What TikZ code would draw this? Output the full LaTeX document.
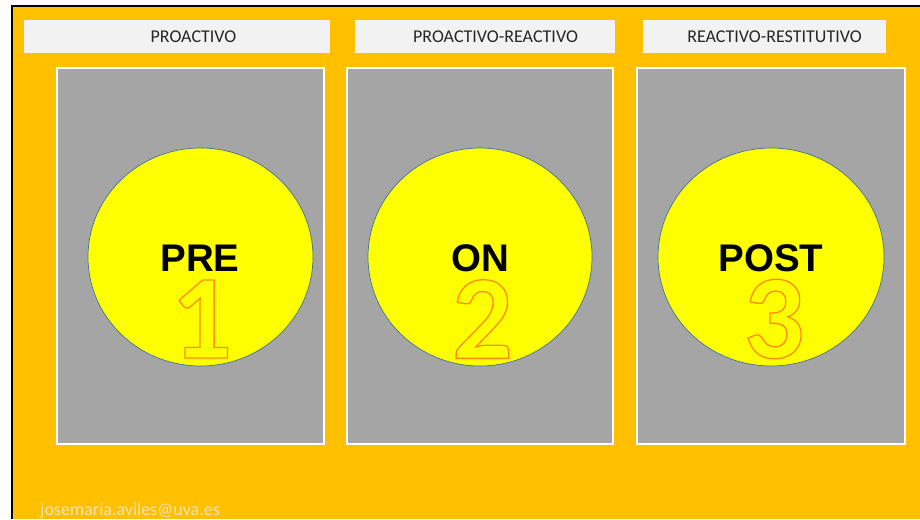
\documentclass[tikz,border=0pt]{standalone}
\usepackage{fontspec}
\setmainfont{Carlito}
\newfontfamily\arialb{Liberation Sans}[BoldFont=* Bold]
\newfontfamily\numfont{Carlito}[UprightFont=* Bold]
\definecolor{orangebg}{HTML}{FFC000}
\definecolor{labelbg}{HTML}{F2F2F2}
\definecolor{panelgray}{HTML}{A5A5A5}
\definecolor{circedge}{HTML}{41719C}
\definecolor{labeltext}{HTML}{262626}
\definecolor{mailtext}{HTML}{F2E2B8}
\definecolor{pureyellow}{HTML}{FFFF00}
\tikzset{
  labelbox/.style={fill=labelbg, draw=none, inner sep=0pt},
  labeltxt/.style={inner sep=0pt, text=labeltext, font=\fontsize{18}{18}\selectfont},
  panelbox/.style={fill=panelgray, draw=white, line width=2.2pt},
  bigcirc/.style={ellipse, fill=pureyellow, draw=circedge, line width=0.7pt, inner sep=0pt},
  bigword/.style={font=\arialb\bfseries\fontsize{38.5}{38.5}\selectfont, text=black, inner sep=0pt},
  bignum/.style={font=\numfont\fontsize{120}{120}\selectfont, inner sep=0pt},
}
\usetikzlibrary{shapes.geometric}
\newcommand{\outlinetxt}[1]{\special{pdf:code q 1 Tr 1.3 w 1 0.55 0 RG}#1\special{pdf:code Q}}
\begin{document}
\begin{tikzpicture}[x=1pt,y=-1pt]
\useasboundingbox (0,0) rectangle (920,519);
\fill[white] (0,0) rectangle (920,519);
\fill[orangebg] (12,6) rectangle (920,519);
\draw[black, line width=2pt] (12,519) -- (12,6) -- (920,6);
% labels
\node[labelbox, minimum width=306pt, minimum height=33pt] (l1) at (177,36.5) {};
\node[labelbox, minimum width=260pt, minimum height=33pt] (l2) at (485,36.5) {};
\node[labelbox, minimum width=243pt, minimum height=33pt] (l3) at (764.5,36.5) {};
\node[labeltxt] (t1) at (193.5,36.5) {PROACTIVO};
\node[labeltxt] (t2) at (495.5,36.5) {PROACTIVO-REACTIVO};
\node[labeltxt] (t3) at (774.5,36.5) {REACTIVO-RESTITUTIVO};
% panels
\draw[panelbox] (57,68) rectangle (324,444);
\draw[panelbox] (347,68) rectangle (613,444);
\draw[panelbox] (637,68) rectangle (905,444);
% circles
\node[bigcirc, minimum width=225pt, minimum height=218pt] (c1) at (200.5,257) {};
\node[bigcirc, minimum width=224pt, minimum height=218pt] (c2) at (480,257) {};
\node[bigcirc, minimum width=226pt, minimum height=218pt] (c3) at (771,257) {};
% numbers
\node[bignum] (n1) at (201.5,319) {\outlinetxt{1}};
\node[bignum] (n2) at (482.5,319) {\outlinetxt{2}};
\node[bignum] (n3) at (774,319) {\outlinetxt{3}};
% words
\node[bigword] (w1) at (200,258) {PRE};
\node[bigword] (w2) at (480,258) {ON};
\node[bigword] (w3) at (771,258) {POST};
% email
\node[anchor=base west, inner sep=0pt, text=mailtext, font=\fontsize{18}{18}\selectfont] (mail) at (40,515) {josemaria.aviles@uva.es};
\end{tikzpicture}
\end{document}
